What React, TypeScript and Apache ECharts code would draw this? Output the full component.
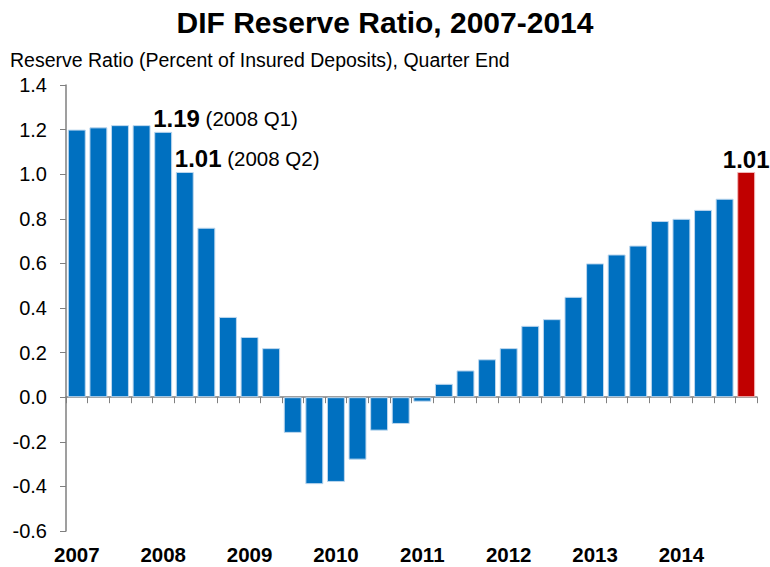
import React, { useEffect, useRef } from "react";
import * as echarts from "echarts";

const quarters = [
  "2007 Q1", "2007 Q2", "2007 Q3", "2007 Q4",
  "2008 Q1", "2008 Q2", "2008 Q3", "2008 Q4",
  "2009 Q1", "2009 Q2", "2009 Q3", "2009 Q4",
  "2010 Q1", "2010 Q2", "2010 Q3", "2010 Q4",
  "2011 Q1", "2011 Q2", "2011 Q3", "2011 Q4",
  "2012 Q1", "2012 Q2", "2012 Q3", "2012 Q4",
  "2013 Q1", "2013 Q2", "2013 Q3", "2013 Q4",
  "2014 Q1", "2014 Q2", "2014 Q3", "2014 Q4",
];

const reserveRatio = [
  1.20, 1.21, 1.22, 1.22,
  1.19, 1.01, 0.76, 0.36,
  0.27, 0.22, -0.16, -0.39,
  -0.38, -0.28, -0.15, -0.12,
  -0.02, 0.06, 0.12, 0.17,
  0.22, 0.32, 0.35, 0.45,
  0.60, 0.64, 0.68, 0.79,
  0.80, 0.84, 0.89, 1.01,
];

const yTicks = [-0.6, -0.4, -0.2, 0.0, 0.2, 0.4, 0.6, 0.8, 1.0, 1.2, 1.4];

const FONT = "'Liberation Sans', Arial, sans-serif";
const BLUE = "#0070C0";
const RED = "#C00000";

export default function App() {
  const ref = useRef<HTMLDivElement>(null);
  useEffect(() => {
    if (!ref.current) return;
    const chart = echarts.init(ref.current, null, { renderer: "svg" });
    const last = reserveRatio.length - 1;
    const data = reserveRatio.map((v, i) => {
      const item: any = { value: v };
      if (i === last) {
        item.itemStyle = { color: RED, borderColor: "#F2B8B8" };
        item.label = {
          show: true,
          position: "top",
          distance: 0,
          formatter: () => v.toFixed(2),
          fontSize: 24,
          fontWeight: "bold",
          color: "#000",
          fontFamily: FONT,
        };
      } else if (i === 4 || i === 5) {
        item.label = {
          show: true,
          position: [-1, -1],
          align: "left",
          verticalAlign: "bottom",
          formatter: () => `{b|${v.toFixed(2)}}{n| (${quarters[i]})}`,
          rich: {
            b: { fontSize: 24, fontWeight: "bold", color: "#000", fontFamily: FONT },
            n: { fontSize: 20.5, color: "#000", fontFamily: FONT },
          },
        };
      }
      return item;
    });
    chart.setOption({
      animation: false,
      title: [
        {
          text: "DIF Reserve Ratio, 2007-2014",
          left: "center",
          top: 2,
          textStyle: { fontSize: 30, fontWeight: "bold", color: "#000", fontFamily: FONT },
        },
        {
          text: "Reserve Ratio (Percent of Insured Deposits), Quarter End",
          left: 5,
          top: 45,
          textStyle: { fontSize: 19.5, fontWeight: "normal", color: "#000", fontFamily: FONT },
        },
      ],
      grid: { left: 66, right: 13, top: 85, bottom: 36, containLabel: false },
      xAxis: [
        {
          type: "category",
          data: quarters,
          position: "bottom",
          axisLine: { onZero: true, lineStyle: { color: "#7F7F7F", width: 1.5 } },
          axisTick: { show: true, interval: 0, length: 6, lineStyle: { color: "#7F7F7F" } },
          axisLabel: { show: false },
        },
        {
          type: "category",
          data: quarters,
          position: "bottom",
          axisLine: { show: false, onZero: false },
          axisTick: { show: false },
          axisLabel: {
            show: true,
            interval: (idx: number) => idx % 4 === 0,
            formatter: (val: string) => val.slice(0, 4),
            margin: 13,
            fontSize: 20.5,
            fontWeight: "bold",
            color: "#000",
            fontFamily: FONT,
          },
        },
      ],
      yAxis: {
        type: "value",
        min: yTicks[0],
        max: yTicks[yTicks.length - 1],
        interval: 0.2,
        axisLine: { show: true, lineStyle: { color: "#7F7F7F", width: 1.5 } },
        axisTick: { show: true, length: 6, lineStyle: { color: "#7F7F7F" } },
        splitLine: { show: false },
        axisLabel: {
          formatter: (v: number) => v.toFixed(1),
          fontSize: 20,
          color: "#000",
          margin: 19,
          fontFamily: FONT,
        },
      },
      series: [
        {
          type: "bar",
          xAxisIndex: 0,
          data,
          barCategoryGap: "17%",
          itemStyle: { color: BLUE, borderColor: "#BDD7EE", borderWidth: 1 },
        },
      ],
    });
    return () => chart.dispose();
  }, []);
  return (
    <div
      ref={ref}
      style={{ position: "fixed", left: 0, top: 0, width: 770, height: 567, background: "#fff" }}
    />
  );
}
